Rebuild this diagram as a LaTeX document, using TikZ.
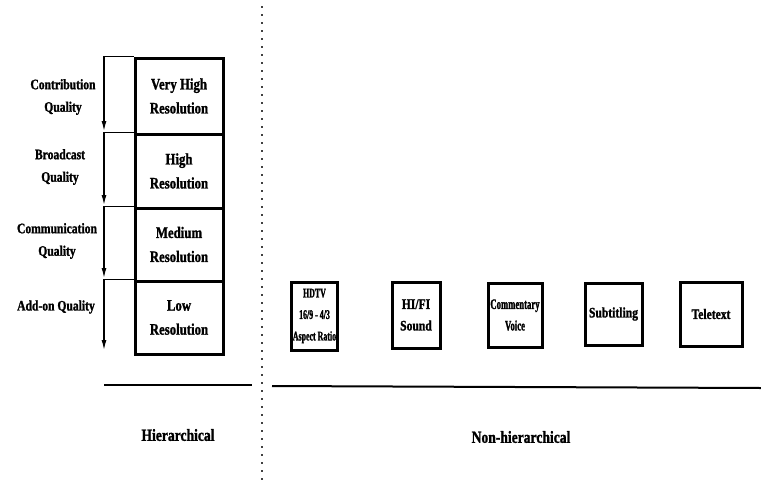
\documentclass[tikz,border=0pt]{standalone}
\usepackage{fontspec}
\setmainfont{Liberation Serif}[FakeStretch=0.8, FakeBold=1.3]
\newfontfamily\narrowfont{Liberation Serif}[FakeStretch=0.6, FakeBold=1.3]
\usetikzlibrary{arrows.meta}
\tikzset{
  box/.style={draw, line width=3pt, inner sep=0pt},
  lbl/.style={align=center, inner sep=0pt, font=\fontsize{16}{24}\selectfont\bfseries},
  side/.style={align=center, inner sep=0pt, font=\fontsize{14.5}{22.5}\selectfont\bfseries},
  rlbl/.style={align=center, inner sep=0pt, font=\fontsize{14.5}{21.5}\selectfont\bfseries},
  nlbl/.style={align=center, inner sep=0pt, font=\narrowfont\fontsize{14.5}{21.5}\selectfont\bfseries},
  hlbl/.style={align=center, inner sep=0pt, font=\narrowfont\fontsize{13.2}{21.5}\selectfont\bfseries},
  foot/.style={inner sep=0pt, font=\fontsize{17}{20}\selectfont\bfseries},
  arr/.style={line width=1.3pt, -{Latex[length=10pt,width=5pt]}},
  rule/.style={line width=2pt},
}
\begin{document}
\begin{tikzpicture}[x=1pt,y=-1pt]
\useasboundingbox (0,0) rectangle (761,488);
% left stack
\node[box, minimum width=88, minimum height=76] (vh) at (179,96) {};
\node[box, minimum width=88, minimum height=74] (hi) at (179,171) {};
\node[box, minimum width=88, minimum height=73] (me) at (179,244.5) {};
\node[box, minimum width=88, minimum height=73] (lo) at (179,317.5) {};
\node[lbl] (tvh) at (vh) {Very High\\Resolution};
\node[lbl] (thi) at (hi) {High\\Resolution};
\node[lbl] (tme) at (me) {Medium\\Resolution};
\node[lbl] (tlo) at (lo) {Low\\Resolution};
% arrows
\coordinate (e1) at (104,131);
\coordinate (e2) at (104,205);
\coordinate (e3) at (104,278);
\coordinate (e4) at (104,350);
\draw[arr] (vh.north west) -| (e1);
\draw[arr] (hi.north west) -| (e2);
\draw[arr] (me.north west) -| (e3);
\draw[arr] (lo.north west) -| (e4);
% side labels
\node[side] (s1) at (63,97) {Contribution\\Quality};
\node[side] (s2) at (60,167) {Broadcast\\Quality};
\node[side] (s3) at (57,241) {Communication\\Quality};
\node[side] (s4) at (56,307) {Add-on Quality};
% right boxes
\node[box, minimum width=46, minimum height=68] (hd) at (314.5,316) {};
\node[box, minimum width=48, minimum height=66] (hf) at (416,315) {};
\node[box, minimum width=54, minimum height=64] (cv) at (515,315) {};
\node[box, minimum width=57, minimum height=62] (sb) at (613.5,314) {};
\node[box, minimum width=62, minimum height=64] (tt) at (711,314) {};
\node[hlbl] (thd) at (hd) {HDTV\\16/9 - 4/3\\Aspect Ratio};
\node[rlbl] (thf) at (hf) {HI/FI\\Sound};
\node[nlbl] (tcv) at (cv) {Commentary\\Voice};
\node[rlbl] (tsb) at (sb) {Subtitling};
\node[rlbl] (ttt) at (tt) {Teletext};
% rules
\coordinate (l1) at (104,385);
\coordinate (l2) at (252,385);
\coordinate (r1) at (272,386);
\coordinate (r2) at (761,388);
\draw[rule] (l1) -- (l2);
\draw[rule] (r1) -- (r2);
\coordinate (d1) at (262,6);
\coordinate (d2) at (262,482);
\draw[line width=1.2pt, dash pattern=on 2pt off 6pt, black!75] (d1) -- (d2);
\node[foot] (fh) at (178,435) {Hierarchical};
\node[foot] (fn) at (521,437) {Non-hierarchical};
\end{tikzpicture}
\end{document}
